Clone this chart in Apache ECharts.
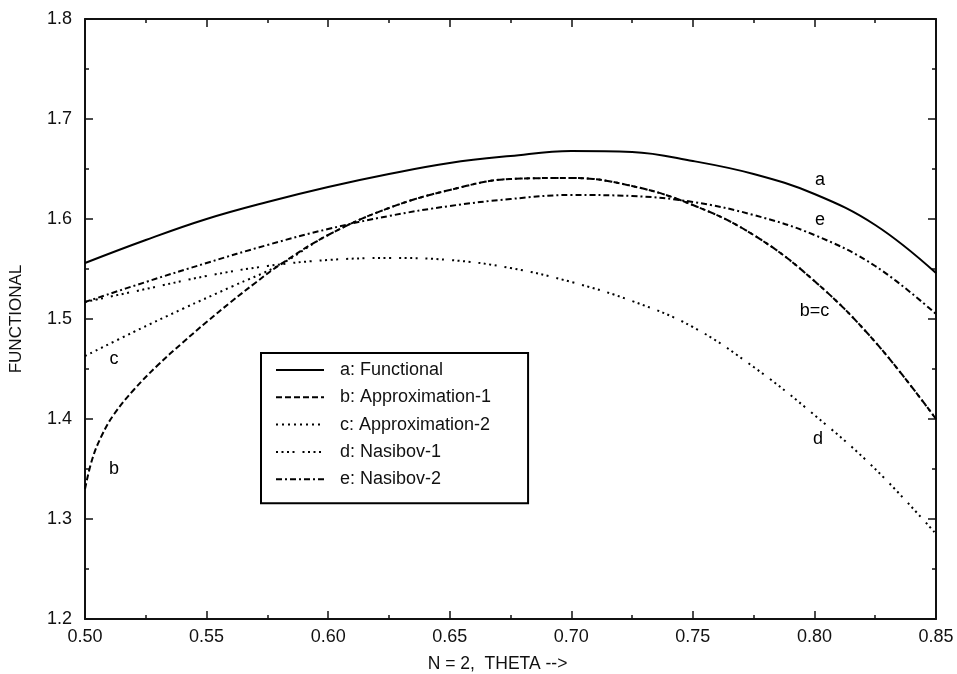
<!DOCTYPE html>
<html>
<head>
<meta charset="utf-8">
<script src="https://cdn.jsdelivr.net/npm/echarts@6/dist/echarts.min.js"></script>
<style>
html,body{margin:0;padding:0;background:#fff;}
#chart{width:957px;height:674px;}
</style>
</head>
<body>
<div id="chart"></div>
<script>
// ---- data ----
const theta = [0.50,0.525,0.55,0.575,0.60,0.625,0.65,0.675,0.70,0.725,0.75,0.775,0.80,0.825,0.85];
const functionalY = [1.556,1.579,1.600,1.617,1.632,1.645,1.656,1.663,1.668,1.667,1.658,1.645,1.625,1.594,1.546];

const approx1X = [0.50,0.503,0.507,0.512,0.52,0.53,0.54,0.55,0.56,0.57,0.58,0.60,0.625,0.65,0.675,0.70,0.725,0.75,0.775,0.80,0.825,0.85];
const approx1Y = [1.330,1.360,1.384,1.405,1.429,1.454,1.476,1.497,1.517,1.536,1.554,1.584,1.611,1.629,1.640,1.641,1.633,1.614,1.584,1.538,1.477,1.400];

const approx2X = [0.50,0.52,0.54,0.56,0.58,0.60,0.625,0.65,0.675,0.70,0.725,0.75,0.775,0.80,0.825,0.85];
const approx2Y = [1.463,1.487,1.510,1.532,1.554,1.584,1.611,1.629,1.640,1.641,1.633,1.614,1.584,1.538,1.477,1.400];

const nasibov1Y = [1.517,1.530,1.543,1.553,1.559,1.561,1.559,1.551,1.537,1.518,1.492,1.452,1.404,1.350,1.285];
const nasibov2Y = [1.517,1.537,1.556,1.574,1.590,1.603,1.613,1.620,1.624,1.623,1.617,1.604,1.584,1.553,1.505];

const seriesNames = ['a: Functional','b: Approximation-1','c: Approximation-2','d: Nasibov-1','e: Nasibov-2'];
const curveLabels = ['a','e','b=c','d','c','b'];
const curveLabelX = [0.8023,0.8023,0.800,0.8015,0.5119,0.5119];
const curveLabelY = [1.639,1.599,1.508,1.380,1.460,1.350];

const xTicks = {min:0.50, max:0.85, interval:0.05};
const yTicks = {min:1.2, max:1.8, interval:0.1};

// ---- build ----
const zip = (xs, ys) => xs.map((x, i) => [x, ys[i]]);
const FONT = '"Liberation Sans", Arial, Helvetica, sans-serif';
const INK = '#000';

function curve(name, data, type, width, smooth) {
  return {
    name, type: 'line', data, smooth: smooth, symbol: 'none', showSymbol: false,
    xAxisIndex: 0, yAxisIndex: 0, animation: false,
    lineStyle: {color: INK, width: width, type: type, cap: 'butt'},
    itemStyle: {color: INK}
  };
}

const baseAxisLine = {show: true, lineStyle: {color: '#111', width: 2}};
const tickStyle = {show: true, inside: true, length: 8, lineStyle: {color: '#111', width: 1.5}};
const minorStyle = {show: true, splitNumber: 2, length: 4, lineStyle: {color: '#111', width: 1.5}};

const option = {
  backgroundColor: '#fff',
  animation: false,
  textStyle: {fontFamily: FONT},
  grid: {left: 85, right: 21, top: 19, bottom: 55, containLabel: false, outerBoundsMode: 'none'},
  legend: {
    data: seriesNames,
    orient: 'vertical',
    left: 261, top: 353,
    itemWidth: 48, itemHeight: 14, itemGap: 7.3,
    padding: [7, 37, 14, 14],
    borderColor: '#000', borderWidth: 2,
    backgroundColor: '#fff',
    itemStyle: {opacity: 0},
    textStyle: {fontFamily: FONT, fontSize: 18, color: '#111', lineHeight: 20, padding: [0, 0, 0, 11]},
    selectedMode: false
  },
  xAxis: [
    {type: 'value', position: 'bottom', min: xTicks.min, max: xTicks.max, interval: xTicks.interval,
     axisLine: baseAxisLine, axisTick: tickStyle, minorTick: minorStyle, splitLine: {show: false},
     axisLabel: {fontFamily: FONT, fontSize: 18, color: '#111', margin: 9, formatter: v => v.toFixed(2)},
     name: 'N = 2,  THETA -->', nameLocation: 'middle', nameGap: 36,
     nameTextStyle: {fontFamily: FONT, fontSize: 17.5, color: '#111', padding: [0, 26, 0, 0]}},
    {type: 'value', position: 'top', min: xTicks.min, max: xTicks.max, interval: xTicks.interval,
     axisLine: baseAxisLine, axisTick: tickStyle, minorTick: minorStyle, splitLine: {show: false},
     axisLabel: {show: false}}
  ],
  yAxis: [
    {type: 'value', position: 'left', min: yTicks.min, max: yTicks.max, interval: yTicks.interval,
     axisLine: baseAxisLine, axisTick: tickStyle, minorTick: minorStyle, splitLine: {show: false},
     axisLabel: {fontFamily: FONT, fontSize: 18, color: '#111', margin: 13, formatter: v => v.toFixed(1)},
     name: 'FUNCTIONAL', nameLocation: 'middle', nameGap: 60, nameRotate: 90,
     nameTextStyle: {fontFamily: FONT, fontSize: 17, color: '#111'}},
    {type: 'value', position: 'right', min: yTicks.min, max: yTicks.max, interval: yTicks.interval,
     axisLine: baseAxisLine, axisTick: tickStyle, minorTick: minorStyle, splitLine: {show: false},
     axisLabel: {show: false}}
  ],
  series: [
    curve(seriesNames[0], zip(theta, functionalY), 'solid', 2, 0.4),
    curve(seriesNames[1], zip(approx1X, approx1Y), [6, 3], 2, 0.4),
    curve(seriesNames[2], zip(approx2X, approx2Y), [2, 4], 2, 0.4),
    curve(seriesNames[3], zip(theta, nasibov1Y), [2, 3.5, 2, 3.5, 2, 3.5, 2, 8], 2, 0.4),
    curve(seriesNames[4], zip(theta, nasibov2Y), [6, 3, 2, 3], 2, 0.4),
    {
      type: 'scatter', name: 'labels', silent: true, animation: false,
      xAxisIndex: 0, yAxisIndex: 0,
      symbolSize: 0, itemStyle: {color: '#fff', opacity: 1},
      data: curveLabels.map((t, i) => ({value: [curveLabelX[i], curveLabelY[i]], name: t})),
      label: {show: true, position: 'inside', formatter: p => p.name,
              fontFamily: FONT, fontSize: 18, color: '#000', opacity: 1}
    }
  ]
};

const chart = echarts.init(document.getElementById('chart'), null, {renderer: 'canvas'});
chart.setOption(option);
</script>
</body>
</html>
